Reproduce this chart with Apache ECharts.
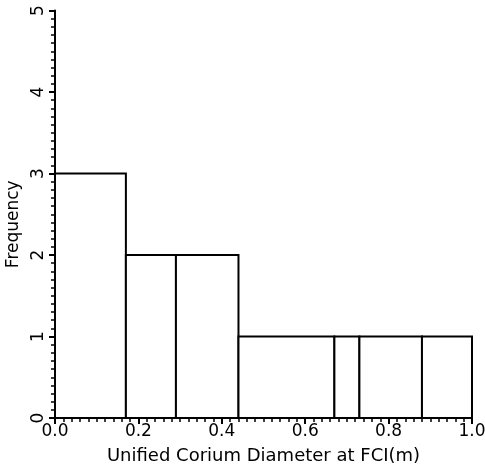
<!DOCTYPE html>
<html>
<head>
<meta charset="utf-8">
<script src="https://cdn.jsdelivr.net/npm/echarts@6/dist/echarts.min.js"></script>
<style>html,body{margin:0;padding:0;background:#fff}#c{width:485px;height:471px}</style>
</head>
<body>
<div id="c"></div>
<script>
// Bin edges (m) and frequencies
var binStart = [0.0, 0.17, 0.29, 0.44, 0.67, 0.73, 0.88];
var binEnd   = [0.17, 0.29, 0.44, 0.67, 0.73, 0.88, 1.0];
var frequency = [3, 2, 2, 1, 1, 1, 1];
var xTicks = ['0.0', '0.2', '0.4', '0.6', '0.8', '1.0'];
var yTicks = ['0', '1', '2', '3', '4', '5'];

var data = binStart.map(function (s, i) { return [s, binEnd[i], frequency[i]]; });
var font = 'DejaVu Sans, sans-serif';
var chart = echarts.init(document.getElementById('c'), null, {renderer: 'canvas'});
chart.setOption({
  backgroundColor: '#fff',
  animation: false,
  grid: {left: 55, right: 13, top: 10.5, bottom: 53, containLabel: false, outerBoundsMode: 'none'},
  xAxis: {
    type: 'value', min: 0, max: 1, interval: 0.2,
    name: 'Unified Corium Diameter at FCI(m)',
    nameLocation: 'middle', nameGap: 29,
    nameTextStyle: {color: '#000', fontSize: 18, fontFamily: font},
    axisLine: {show: true, lineStyle: {color: '#000', width: 2}},
    axisTick: {show: true, length: 6, lineStyle: {color: '#000', width: 2}},
    minorTick: {show: true, splitNumber: 10, length: 4, lineStyle: {color: '#000', width: 1.5}},
    splitLine: {show: false},
    axisLabel: {color: '#000', fontSize: 17, fontFamily: font, margin: 5,
      formatter: function (v) { return xTicks[Math.round(v / 0.2)]; }}
  },
  yAxis: {
    type: 'value', min: 0, max: 5, interval: 1,
    name: 'Frequency',
    nameLocation: 'middle', nameGap: 31, nameRotate: 90,
    nameTextStyle: {color: '#000', fontSize: 17, fontFamily: font, padding: [0, 0, 0, -20]},
    axisLine: {show: true, lineStyle: {color: '#000', width: 2}},
    axisTick: {show: true, length: 6, lineStyle: {color: '#000', width: 2}},
    minorTick: {show: true, splitNumber: 10, length: 4, lineStyle: {color: '#000', width: 1.5}},
    splitLine: {show: false},
    axisLabel: {color: '#000', fontSize: 17, fontFamily: font, rotate: 90, margin: 8,
      formatter: function (v) { return yTicks[Math.round(v)]; }}
  },
  series: [{
    type: 'custom',
    encode: {x: [0, 1], y: 2},
    data: data,
    renderItem: function (params, api) {
      var p0 = api.coord([api.value(0), api.value(2)]);
      var p1 = api.coord([api.value(1), 0]);
      return {
        type: 'rect',
        shape: {x: p0[0], y: p0[1], width: p1[0] - p0[0], height: p1[1] - p0[1]},
        style: {fill: '#fff', stroke: '#000', lineWidth: 2}
      };
    }
  }]
});
</script>
</body>
</html>
